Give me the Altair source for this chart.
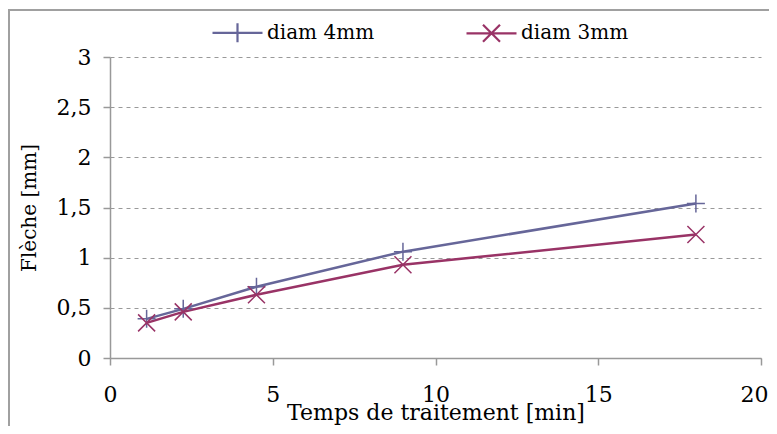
import altair as alt
import pandas as pd

# Data
times = [1.125, 2.25, 4.5, 9, 18]
diam4 = [0.39, 0.49, 0.71, 1.06, 1.54]
diam3 = [0.35, 0.46, 0.63, 0.93, 1.23]
series = ["diam 4mm", "diam 3mm"]
colors = ["#666699", "#993366"]
x_ticks = [0, 5, 10, 15, 20]
y_ticks = [0, 0.5, 1, 1.5, 2, 2.5, 3]

df = pd.DataFrame({
    "t": times + times,
    "f": diam4 + diam3,
    "s": [series[0]] * len(times) + [series[1]] * len(times),
})

FONT = "DejaVu Serif"
PLUS = "M-1,0L1,0M0,-1L0,1"
CROSS = "M-1,-1L1,1M-1,1L1,-1"
LEG_PLUS = "M-1,0L1,0M0,-0.38L0,0.38"
LEG_CROSS = "M-1,0L1,0M-0.34,-0.34L0.34,0.34M-0.34,0.34L0.34,-0.34"

x_enc = alt.X("t:Q", scale=alt.Scale(domain=[0, 20], nice=False),
              axis=alt.Axis(values=x_ticks, grid=False, title="Temps de traitement [min]",
                            labelFlush=False, labelPadding=19, titleFontSize=22,
                            titleBaseline="alphabetic", titleY=61,
                            labelOffset={"condition": {"test": "datum.value == 20", "value": -7},
                                         "value": 0}))
y_enc = alt.Y("f:Q", scale=alt.Scale(domain=[0, 3], nice=False),
              axis=alt.Axis(values=y_ticks, grid=True, gridDash=[4, 4], gridColor="#999999",
                            title="Flèche [mm]", labelPadding=12, titlePadding=17, titleFontSize=20,
                            labelExpr="replace(toString(datum.value), '.', ',')"))
color_scale = alt.Scale(domain=series, range=colors)
legend = alt.Legend(orient="none", direction="horizontal", title=None,
                    legendX=101, legendY=-51, symbolOpacity=1,
                    symbolSize=2500, symbolStrokeWidth=2.2,
                    labelFont=FONT, labelFontSize=20, labelColor="black",
                    labelOffset=3, columnPadding=87)

base = alt.Chart(df)

lines = base.mark_line(strokeWidth=2.5).encode(
    x=x_enc, y=y_enc, color=alt.Color("s:N", scale=color_scale, legend=legend),
    detail="s:N")

m4 = base.transform_filter(alt.datum.s == series[0]).mark_point(
    filled=False, strokeWidth=1.5, size=324, opacity=1).encode(
    x="t:Q", y="f:Q", shape=alt.value(PLUS), color=alt.value(colors[0]))
m3 = base.transform_filter(alt.datum.s == series[1]).mark_point(
    filled=False, strokeWidth=1.5, size=289, opacity=1).encode(
    x="t:Q", y="f:Q", shape=alt.value(CROSS), color=alt.value(colors[1]))

leg = base.mark_point(filled=False, opacity=0).encode(
    x="t:Q", y="f:Q",
    color=alt.Color("s:N", scale=color_scale, legend=legend),
    shape=alt.Shape("s:N", scale=alt.Scale(domain=series, range=[LEG_PLUS, LEG_CROSS]),
                    legend=legend),
)

frame_df = pd.DataFrame({"v": [0]})
top_rule = alt.Chart(frame_df).mark_rule(color="#a0a0a0", strokeWidth=2).encode(
    x=alt.value(-102), x2=alt.value(670), y=alt.value(-47))
left_rule = alt.Chart(frame_df).mark_rule(color="#a0a0a0", strokeWidth=2).encode(
    x=alt.value(-101), y=alt.value(-47), y2=alt.value(380))

chart = alt.layer(lines, m4, m3, leg, top_rule, left_rule).properties(
    width=651, height=301,
    autosize=alt.AutoSizeParams(type="none"),
    padding={"left": 102, "top": 49, "right": 8, "bottom": 68},
).configure_view(stroke=None).configure_axis(
    domainColor="#999999", domainWidth=1.5, tickColor="#999999", tickWidth=1.5, tickSize=7,
    labelFont=FONT, labelFontSize=22, labelColor="black",
    titleFont=FONT, titleColor="black", titleFontWeight="normal",
)

chart.save("out.html", embed_options={"renderer": "svg", "actions": False})
